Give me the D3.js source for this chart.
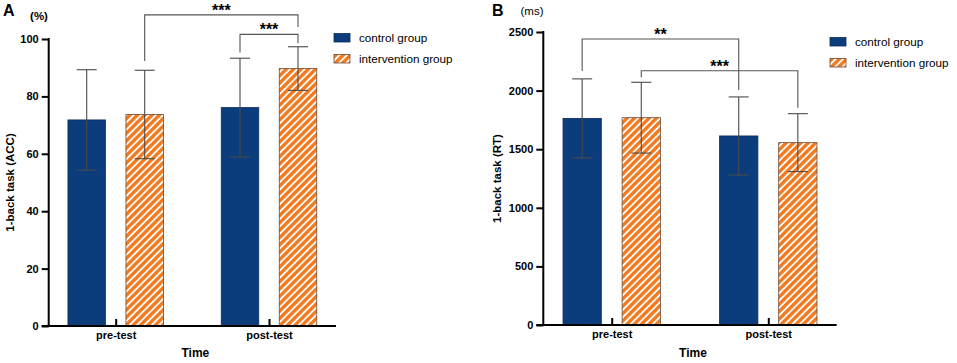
<!DOCTYPE html>
<html>
<head>
<meta charset="utf-8">
<script src="https://cdn.jsdelivr.net/npm/d3@7"></script>
<style>
  body { margin: 0; background: #fff; }
  svg { display: block; font-family: "Liberation Sans", Arial, sans-serif; }
</style>
</head>
<body>
<script>
// categories and groups
const times = ["pre-test", "post-test"]
const groups = ["control group", "intervention group"]

// panel A: 1-back accuracy (%)
const accControl = [71.8, 76.1]
const accControlSD = [17.5, 17.2]
const accIntervention = [73.7, 89.7]
const accInterventionSD = [15.4, 7.6]
const accTicks = [0, 20, 40, 60, 80, 100]
// brackets: [from time, from group, to time, to group, level, left leg end, right leg end, label]
const accBrackets = [
    ["pre-test", "intervention group", "post-test", "intervention group", 108.4, 92.3, 104.2, "***"],
    ["post-test", "control group", "post-test", "intervention group", 101.6, 95.3, 98.5, "***"]
]

// panel B: 1-back reaction time (ms)
const rtControl = [1763, 1613]
const rtControlSD = [337, 333]
const rtIntervention = [1769, 1556]
const rtInterventionSD = [302, 247]
const rtTicks = [0, 500, 1000, 1500, 2000, 2500]
const rtBrackets = [
    ["pre-test", "control group", "post-test", "control group", 2440, 2167, 2005, "**"],
    ["pre-test", "intervention group", "post-test", "intervention group", 2170, 2113, 1854, "***"]
]

const navy = "#0b3c7c"
const orange = "#f47a1f"

const svg = d3.select("body").append("svg")
    .attr("width", 957)
    .attr("height", 363)

// striped fill for the intervention group
const pat = svg.append("defs").append("pattern")
    .attr("id", "stripes")
    .attr("patternUnits", "userSpaceOnUse")
    .attr("width", 5.2)
    .attr("height", 5.2)
    .attr("patternTransform", "rotate(45)")
pat.append("rect").attr("width", 5.2).attr("height", 5.2).attr("fill", "#fff")
pat.append("rect").attr("width", 3.4).attr("height", 5.2).attr("fill", orange)

function drawPanel(p){
    let g = svg.append("g")

    let x = d3.scalePoint()
        .domain(times)
        .range([p.left, p.right])
        .padding(0.437)

    let sub = d3.scaleBand()
        .domain(groups)
        .range([-p.barW - p.gap/2, p.barW + p.gap/2])
        .paddingInner(p.gap / (p.barW + p.gap))

    let y = d3.scaleLinear()
        .domain([0, p.max])
        .range([p.bottom, p.top])

    let rows = []
    times.forEach((t, i) => {
        rows.push({time: t, group: groups[0], v: p.control[i], sd: p.controlSD[i]})
        rows.push({time: t, group: groups[1], v: p.interv[i], sd: p.intervSD[i]})
    })
    const cx = d => x(d.time) + sub(d.group) + sub.bandwidth()/2

    // bars
    g.selectAll(".bar")
        .data(rows)
        .enter()
        .append("rect")
            .attr("x", d => x(d.time) + sub(d.group))
            .attr("y", d => y(d.v))
            .attr("width", sub.bandwidth())
            .attr("height", d => y(0) - y(d.v))
            .attr("fill", d => d.group == groups[0] ? navy : "url(#stripes)")
            .attr("stroke", d => d.group == groups[0] ? "#0a2c5a" : "#6b4a35")
            .attr("stroke-width", 0.8)

    // error bars
    let eb = g.selectAll(".err")
        .data(rows)
        .enter()
        .append("g")
            .attr("stroke", "#4a4a4a")
            .attr("stroke-width", 1.1)
    eb.append("line")
        .attr("x1", cx).attr("x2", cx)
        .attr("y1", d => y(d.v - d.sd)).attr("y2", d => y(d.v + d.sd))
    eb.append("line")
        .attr("x1", d => cx(d) - 10).attr("x2", d => cx(d) + 10)
        .attr("y1", d => y(d.v + d.sd)).attr("y2", d => y(d.v + d.sd))
    eb.append("line")
        .attr("x1", d => cx(d) - 10).attr("x2", d => cx(d) + 10)
        .attr("y1", d => y(d.v - d.sd)).attr("y2", d => y(d.v - d.sd))

    // significance brackets
    p.brackets.forEach(b => {
        let x1 = x(b[0]) + sub(b[1]) + sub.bandwidth()/2
        let x2 = x(b[2]) + sub(b[3]) + sub.bandwidth()/2
        g.append("path")
            .attr("d", `M${x1},${y(b[5])}V${y(b[4])}H${x2}V${y(b[6])}`)
            .attr("fill", "none")
            .attr("stroke", "#555")
            .attr("stroke-width", 1.1)
        g.append("text")
            .attr("x", (x1 + x2)/2)
            .attr("y", y(b[4]) + 1)
            .attr("text-anchor", "middle")
            .style("font-size", "16px")
            .style("font-weight", "bold")
            .text(b[7])
    })

    // axes
    let yAxis = g.append("g")
        .attr("transform", `translate(${p.left},0)`)
        .call(d3.axisLeft(y).tickValues(p.ticks).tickFormat(d3.format("d"))
            .tickSize(7).tickPadding(3).tickSizeOuter(0))
    yAxis.select(".domain").attr("stroke-width", 2).attr("d", `M0,${p.bottom}V${p.top - 1}`)
    yAxis.selectAll(".tick line").attr("stroke-width", 2)
    yAxis.selectAll("text")
        .style("font-size", "11px")
        .style("font-weight", "bold")
        .style("font-family", "Liberation Sans, Arial, sans-serif")
        .attr("fill", "#000")

    let xAxis = g.append("g")
        .attr("transform", `translate(0,${p.bottom})`)
        .call(d3.axisBottom(x).tickSize(-7).tickSizeOuter(0).tickPadding(13))
    xAxis.select(".domain").attr("stroke-width", 2).attr("d", `M${p.left - 7},0H${p.right}`)
    xAxis.selectAll(".tick line").attr("stroke-width", 2)
    xAxis.selectAll("text")
        .style("font-size", "11px")
        .style("font-weight", "bold")
        .style("font-family", "Liberation Sans, Arial, sans-serif")
        .attr("fill", "#000")
        .attr("dy", "0")

    // titles
    g.append("text")
        .attr("x", (p.left + p.right)/2 + 3)
        .attr("y", 357)
        .attr("text-anchor", "middle")
        .style("font-size", "12px")
        .style("font-weight", "bold")
        .text("Time")

    g.append("text")
        .attr("transform", `translate(${p.yTitleX},${(p.top + p.bottom)/2}) rotate(-90)`)
        .attr("text-anchor", "middle")
        .style("font-size", "11.5px")
        .style("font-weight", "bold")
        .text(p.yTitle)

    g.append("text")
        .attr("x", p.letterX)
        .attr("y", 16)
        .style("font-size", "16px")
        .style("font-weight", "bold")
        .text(p.letter)

    g.append("text")
        .attr("x", p.unitX)
        .attr("y", p.unitY)
        .attr("text-anchor", "middle")
        .style("font-size", "11.5px")
        .style("font-weight", p.unitWeight)
        .text(p.unit)

    // legend
    let leg = g.selectAll(".leg")
        .data(groups)
        .enter()
        .append("g")
            .attr("transform", (d, i) => `translate(${p.legX},${p.legY + i*21})`)
    leg.append("rect")
        .attr("width", 16).attr("height", 8.5)
        .attr("fill", (d, i) => i == 0 ? navy : "url(#stripes)")
        .attr("stroke", (d, i) => i == 0 ? "#0a2c5a" : "#6b4a35")
        .attr("stroke-width", 0.8)
    leg.append("text")
        .attr("x", 25)
        .attr("y", 8.5)
        .style("font-size", "11.7px")
        .text(d => d)
}

drawPanel({
    left: 48.7, right: 336, top: 39, bottom: 326, max: 100,
    barW: 37.5, gap: 20.5,
    control: accControl, controlSD: accControlSD,
    interv: accIntervention, intervSD: accInterventionSD,
    ticks: accTicks, brackets: accBrackets,
    yTitle: "1-back task (ACC)", yTitleX: 14,
    letter: "A", letterX: 3, unit: "(%)", unitX: 39, unitY: 20, unitWeight: "bold",
    legX: 334, legY: 33.5
})

drawPanel({
    left: 543.3, right: 836.7, top: 32, bottom: 325, max: 2500,
    barW: 38.3, gap: 20.8,
    control: rtControl, controlSD: rtControlSD,
    interv: rtIntervention, intervSD: rtInterventionSD,
    ticks: rtTicks, brackets: rtBrackets,
    yTitle: "1-back task (RT)", yTitleX: 501,
    letter: "B", letterX: 492, unit: "(ms)", unitX: 532, unitY: 15, unitWeight: "normal",
    legX: 830, legY: 37.5
})
</script>
</body>
</html>
